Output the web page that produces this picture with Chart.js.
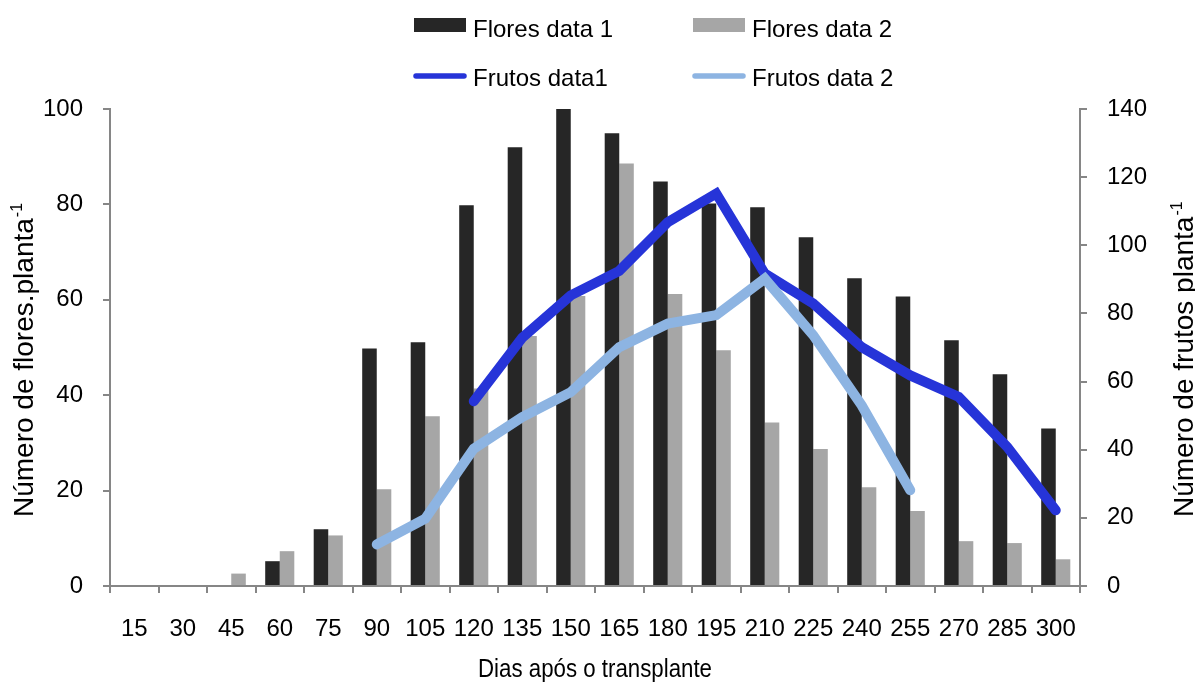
<!DOCTYPE html>
<html>
<head>
<meta charset="utf-8">
<script src="https://cdn.jsdelivr.net/npm/chart.js@4.4.1/dist/chart.umd.min.js"></script>
<style>
html,body{margin:0;padding:0;background:#fff;}
#wrap{width:1195px;height:684px;position:relative;}
</style>
</head>
<body>
<div id="wrap"><canvas id="c" width="1195" height="684"></canvas></div>
<script>
const categories = ['15','30','45','60','75','90','105','120','135','150','165','180','195','210','225','240','255','270','285','300'];
const floresData1 = [0, 0, 0, 5.2, 11.9, 49.8, 51.1, 79.8, 92.0, 100, 94.9, 84.8, 80.2, 79.4, 73.1, 64.5, 60.7, 51.5, 44.4, 33.0];
const floresData2 = [0, 0, 2.6, 7.3, 10.6, 20.3, 35.6, 41.4, 52.4, 60.8, 88.6, 61.2, 49.4, 34.3, 28.7, 20.7, 15.7, 9.4, 9.0, 5.6];
const frutosData1 = [null, null, null, null, null, null, null, 54.2, 72.9, 85.3, 92.5, 106.8, 115.2, 91.7, 82.9, 70.1, 61.8, 55.5, 40.8, 22.2];
const frutosData2 = [null, null, null, null, null, 12.2, 19.8, 40.3, 49.6, 56.9, 70.1, 77.0, 79.5, 90.2, 73.6, 53.0, 28.1, null, null, null];
const leftTicks = [0, 20, 40, 60, 80, 100];
const rightTicks = [0, 20, 40, 60, 80, 100, 120, 140];
const seriesLabels = ['Flores data 1', 'Flores data 2', 'Frutos data1', 'Frutos data 2'];
const xTitle = 'Dias após o transplante';
const leftTitle = 'Número de flores.planta';
const rightTitle = 'Número de frutos planta';
const titleSup = '-1';

const FONT = "'Liberation Sans', Arial, sans-serif";
const AX = '#868686';

const overlay = {
  id: 'overlay',
  afterDraw(chart) {
    const ctx = chart.ctx;
    const ds = chart.data.datasets;
    const ca = chart.chartArea;
    ctx.save();
    // legend (2 x 2 grid)
    const cols = [414, 693];
    const baselines = [37, 86];
    ds.forEach((d, i) => {
      const x = cols[i % 2];
      const row = Math.floor(i / 2);
      if (d.type === 'line') {
        ctx.strokeStyle = d.borderColor;
        ctx.lineWidth = 5.5;
        ctx.lineCap = 'round';
        ctx.beginPath();
        ctx.moveTo(x + 2, 76);
        ctx.lineTo(x + 50, 76);
        ctx.stroke();
      } else {
        ctx.fillStyle = d.backgroundColor;
        ctx.fillRect(x, 18, 52, 14);
      }
      ctx.fillStyle = '#000';
      ctx.font = '24px ' + FONT;
      ctx.textAlign = 'left';
      ctx.textBaseline = 'alphabetic';
      ctx.fillText(d.label, x + 59, baselines[row]);
    });
    // x-axis title (slightly condensed like the original)
    ctx.fillStyle = '#000';
    ctx.font = '25px ' + FONT;
    ctx.textAlign = 'center';
    ctx.textBaseline = 'alphabetic';
    ctx.fillText(xTitle, (ca.left + ca.right) / 2, 677, 234);
    // vertical axis titles reading bottom-to-top
    function vtitle(x, y, text) {
      ctx.save();
      ctx.translate(x, y);
      ctx.rotate(-Math.PI / 2);
      ctx.fillStyle = '#000';
      ctx.font = '28px ' + FONT;
      ctx.textAlign = 'left';
      ctx.textBaseline = 'alphabetic';
      ctx.fillText(text, 0, 0);
      const w = ctx.measureText(text).width;
      ctx.font = '16px ' + FONT;
      ctx.fillText(titleSup, w + 1, -11);
      ctx.restore();
    }
    vtitle(33, 517, leftTitle);
    vtitle(1193, 517, rightTitle);
    ctx.restore();
  }
};

new Chart(document.getElementById('c'), {
  type: 'bar',
  data: {
    labels: categories,
    datasets: [
      { type: 'bar', label: seriesLabels[0], data: floresData1, backgroundColor: '#262626', yAxisID: 'y', order: 3,
        categoryPercentage: 0.6, barPercentage: 1.0 },
      { type: 'bar', label: seriesLabels[1], data: floresData2, backgroundColor: '#A6A6A6', yAxisID: 'y', order: 3,
        categoryPercentage: 0.6, barPercentage: 1.0 },
      { type: 'line', label: seriesLabels[2], data: frutosData1, borderColor: '#2634D8', backgroundColor: '#2634D8',
        borderWidth: 10, pointRadius: 0, tension: 0, borderCapStyle: 'round', borderJoinStyle: 'miter', yAxisID: 'y1', order: 2, fill: false },
      { type: 'line', label: seriesLabels[3], data: frutosData2, borderColor: '#8DB4E2', backgroundColor: '#8DB4E2',
        borderWidth: 10, pointRadius: 0, tension: 0, borderCapStyle: 'round', borderJoinStyle: 'miter', yAxisID: 'y1', order: 1, fill: false }
    ]
  },
  options: {
    responsive: false,
    animation: false,
    devicePixelRatio: 1,
    layout: { padding: { top: 109, left: 0, right: 0, bottom: 0 } },
    plugins: { legend: { display: false }, tooltip: { enabled: false } },
    scales: {
      x: {
        type: 'category',
        offset: true,
        grid: { offset: true, drawOnChartArea: false, drawTicks: true, tickLength: 7, color: AX, lineWidth: 2 },
        border: { color: AX, width: 2 },
        ticks: { font: { family: FONT, size: 24 }, color: '#000', padding: 22, autoSkip: false, maxRotation: 0, minRotation: 0 },
        title: { display: false },
        afterFit(s) { s.height = 98; }
      },
      y: {
        position: 'left',
        min: 0, max: 100,
        grid: { drawOnChartArea: false, drawTicks: true, tickLength: 7, color: AX, lineWidth: 2 },
        border: { color: AX, width: 2 },
        ticks: { font: { family: FONT, size: 24 }, color: '#000', padding: 20 },
        afterBuildTicks(s) { s.ticks = leftTicks.map(v => ({ value: v })); },
        afterFit(s) { s.width = 110; }
      },
      y1: {
        position: 'right',
        min: 0, max: 140,
        grid: { drawOnChartArea: false, drawTicks: true, tickLength: 7, color: AX, lineWidth: 2 },
        border: { color: AX, width: 2 },
        ticks: { font: { family: FONT, size: 24 }, color: '#000', padding: 20 },
        afterBuildTicks(s) { s.ticks = rightTicks.map(v => ({ value: v })); },
        afterFit(s) { s.width = 115; }
      }
    }
  },
  plugins: [overlay]
});
</script>
</body>
</html>
